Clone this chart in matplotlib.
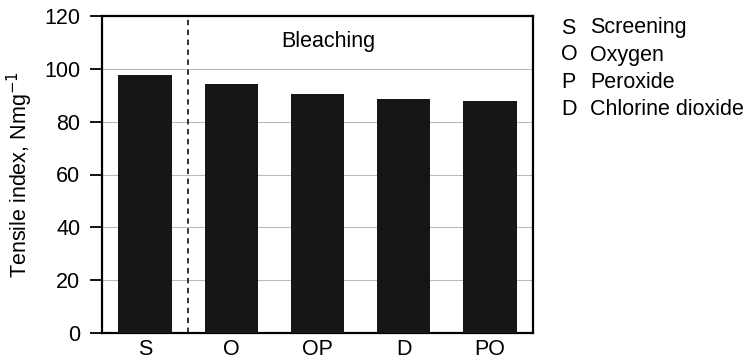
import matplotlib
matplotlib.use("Agg")
import matplotlib.pyplot as plt
import numpy as np

stages = ["S", "O", "OP", "D", "PO"]
tensile = [97.7, 94.2, 90.3, 88.4, 87.8]
legend_keys = ["S", "O", "P", "D"]
legend_names = ["Screening", "Oxygen", "Peroxide", "Chlorine dioxide"]

plt.rcParams['font.family'] = ['Liberation Sans', 'DejaVu Sans']

fig = plt.figure(figsize=(7.52, 3.62), dpi=100)
ax = fig.add_axes([102/752, 1-333/362, (533-102)/752, (333-16)/362])

x = np.arange(len(stages))
ax.bar(x, tensile, width=0.62, color="#161616", zorder=3)
ax.axvline(0.5, color="#222222", linestyle=(0, (3, 2.5)), linewidth=1.3, zorder=4)

ax.set_xlim(-0.5, 4.5)
ax.set_ylim(0, 120)
ax.set_yticks(np.arange(0, 121, 20))
ax.set_xticks(x)
ax.set_xticklabels(stages)
ax.yaxis.grid(True, color="#bbbbbb", linewidth=0.8, zorder=0)
ax.tick_params(axis="y", direction="out", length=8.6, width=1.3, labelsize=15.5, pad=7)
ax.tick_params(axis="x", length=0, labelsize=15.5, pad=4.5)
for s in ax.spines.values():
    s.set_linewidth(1.6)
ax.set_ylabel("Tensile index, Nmg$^{-1}$", fontsize=15.5, labelpad=6.5)

ax.text(2.12, 110.5, "Bleaching", ha="center", va="center", fontsize=15.5)

# key for the stage abbreviations
for i, (k, n) in enumerate(zip(legend_keys, legend_names)):
    y = 1 - (28 + i * 27) / 362
    fig.text(561 / 752, y, k, ha="left", va="center", fontsize=15.5)
    fig.text(590 / 752, y, n, ha="left", va="center", fontsize=15.5)

fig.savefig("out.png", dpi=100)
